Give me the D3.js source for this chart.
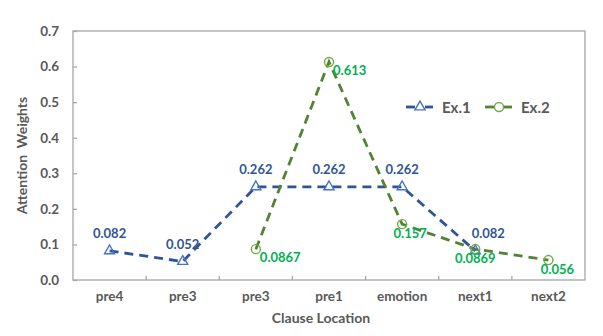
<!DOCTYPE html>
<html>
<head>
<meta charset="utf-8">
<script src="https://cdn.jsdelivr.net/npm/d3@7"></script>
<style>
  body { margin: 0; background: #fff; }
  text { font-family: Lato, "Open Sans", sans-serif; font-weight: bold; }
</style>
</head>
<body>
<div id="chart"></div>
<script>
(function() {
    var categories = ["pre4", "pre3", "pre3 ", "pre1", "emotion", "next1", "next2"];
    var yTicks = [0, 0.1, 0.2, 0.3, 0.4, 0.5, 0.6, 0.7];
    // null = no point for that clause
    var ex1 = [0.082, 0.052, 0.262, 0.262, 0.262, 0.082, null];
    var ex2 = [null, null, 0.0867, 0.613, 0.157, 0.0869, 0.056];
    var ex1Labels = ["0.082", "0.052", "0.262", "0.262", "0.262", "0.082", ""];
    var ex2Labels = ["", "", "0.0867", "0.613", "0.157", "0.0869", "0.056"];

    var width = 603, height = 336;
    var margin = {top: 31, right: 18, bottom: 56, left: 73};
    var w = width - margin.left - margin.right;
    var h = height - margin.top - margin.bottom;

    var svg = d3.select('#chart').append('svg')
        .attr("width", width)
        .attr("height", height);

    var g = svg.append('g').attr('transform', 'translate(' + margin.left + ',' + margin.top + ')');

    var x = d3.scaleBand().domain(categories).range([0, w]);
    var y = d3.scaleLinear().domain([0, 0.7]).range([h, 0]);
    var cx = function(i) { return x(categories[i]) + x.bandwidth() / 2; };

    var gray = '#595959';
    var axisGray = '#A6A6A6';

    // plot frame
    g.append('rect')
        .attr('width', w).attr('height', h)
        .attr('fill', 'none')
        .attr('stroke', axisGray)
        .attr('stroke-width', 1.3);

    // y axis, ticks pointing inward
    var yAxis = g.append('g')
        .call(d3.axisLeft(y).tickValues(yTicks).tickFormat(d3.format('.1f')).tickSizeInner(-4).tickSizeOuter(0).tickPadding(14));
    yAxis.select('.domain').remove();
    yAxis.selectAll('line').attr('stroke', axisGray).attr('stroke-width', 1.3);
    yAxis.selectAll('text').attr('fill', gray).style('font-size', '13.5px');

    // x axis, boundary ticks between categories
    var xAxis = g.append('g').attr('transform', 'translate(0,' + h + ')')
        .call(d3.axisBottom(x).tickSize(0).tickPadding(11));
    xAxis.select('.domain').remove();
    xAxis.selectAll('text').attr('fill', gray).style('font-size', '13.5px');
    g.selectAll('.xtick').data(categories.slice(1)).enter().append('line')
        .attr('x1', function(d) { return x(d); })
        .attr('x2', function(d) { return x(d); })
        .attr('y1', h).attr('y2', h - 4)
        .attr('stroke', axisGray).attr('stroke-width', 1.3);

    // axis titles
    svg.append('text')
        .attr('transform', 'translate(27,' + (margin.top + h / 2) + ') rotate(-90)')
        .attr('text-anchor', 'middle')
        .attr('fill', gray)
        .style('font-size', '14px')
        .style('white-space', 'pre')
        .text('Attention  Weights');
    svg.append('text')
        .attr('x', 321)
        .attr('y', 323)
        .attr('text-anchor', 'middle')
        .attr('fill', gray)
        .style('font-size', '14px')
        .text('Clause Location');

    var series = [
        {name: 'Ex.1', values: ex1, labels: ex1Labels, line: '#2F5597', marker: '#4472C4', text: '#2F5597', shape: d3.symbolTriangle},
        {name: 'Ex.2', values: ex2, labels: ex2Labels, line: '#548235', marker: '#70AD47', text: '#00B050', shape: d3.symbolCircle}
    ];

    var line = d3.line()
        .defined(function(d) { return d != null; })
        .x(function(d, i) { return cx(i); })
        .y(function(d) { return y(d); });

    series.forEach(function(s) {
        g.append('path')
            .datum(s.values)
            .attr('d', line)
            .attr('fill', 'none')
            .attr('stroke', s.line)
            .attr('stroke-width', 2.8)
            .attr('stroke-dasharray', '9,6');
    });

    series.forEach(function(s, si) {
        s.values.forEach(function(v, i) {
            if (v == null) return;
            g.append('path')
                .attr('d', d3.symbol().type(s.shape).size(si === 0 ? 44 : 64)())
                .attr('transform', 'translate(' + cx(i) + ',' + y(v) + ')')
                .attr('fill', 'none')
                .attr('stroke', s.marker)
                .attr('stroke-width', 1.4);

            var t = g.append('text')
                .attr('fill', s.text)
                .style('font-size', '13px')
                .text(s.labels[i]);
            if (si === 0) {
                // labels above the point
                var dx = categories[i] === 'next1' ? 13 : 0;
                t.attr('x', cx(i) + dx).attr('y', y(v) - 13).attr('text-anchor', 'middle');
            } else if (i <= 3) {
                // labels right of the point
                t.attr('x', cx(i) + 4).attr('y', y(v) + 13).attr('text-anchor', 'start');
            } else {
                // labels below the point
                var dx2 = categories[i] === 'emotion' ? 8 : (categories[i] === 'next2' ? 9 : 0);
                t.attr('x', cx(i) + dx2).attr('y', y(v) + 14).attr('text-anchor', 'middle');
            }
        });
    });

    // legend
    var legend = svg.append('g').attr('transform', 'translate(406,107)');
    series.forEach(function(s, i) {
        var lg = legend.append('g').attr('transform', 'translate(' + (i * 79) + ',0)');
        lg.append('line').attr('x1', 0).attr('x2', 27).attr('y1', 0).attr('y2', 0)
            .attr('stroke', s.line).attr('stroke-width', 2.8);
        lg.append('rect').attr('x', 9).attr('y', -6).attr('width', 10).attr('height', 12).attr('fill', '#fff');
        lg.append('path')
            .attr('d', d3.symbol().type(s.shape).size(i === 0 ? 44 : 64)())
            .attr('transform', 'translate(14,0)')
            .attr('fill', '#fff')
            .attr('stroke', s.marker)
            .attr('stroke-width', 1.4);
        lg.append('text').attr('x', 36).attr('y', 5.5)
            .attr('fill', gray)
            .style('font-size', '15px')
            .text(s.name);
    });
})();
</script>
</body>
</html>
